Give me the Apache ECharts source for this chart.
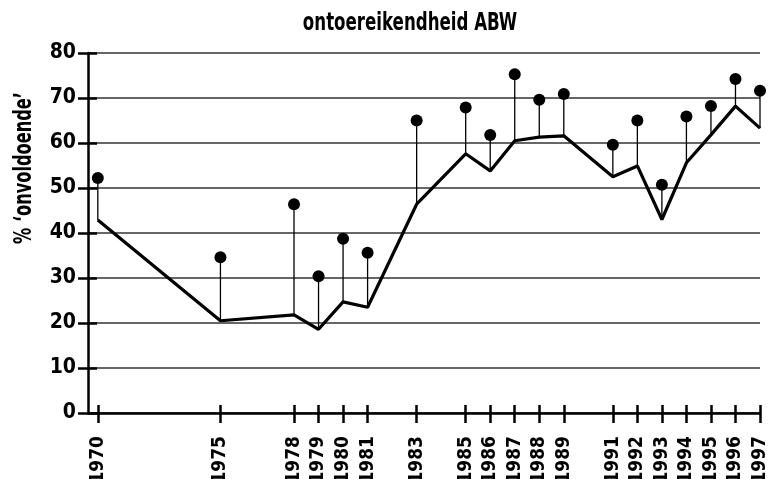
<!DOCTYPE html>
<html>
<head>
<meta charset="utf-8">
<script src="https://cdn.jsdelivr.net/npm/echarts@6/dist/echarts.min.js"></script>
<style>
html,body{margin:0;padding:0;background:#fff;}
#chart{width:772px;height:479px;}
</style>
</head>
<body>
<div id="chart"></div>
<script>
const years = [1970, 1975, 1978, 1979, 1980, 1981, 1983, 1985, 1986, 1987, 1988, 1989, 1991, 1992, 1993, 1994, 1995, 1996, 1997];
const lineValues = [42.9, 20.5, 21.8, 18.6, 24.7, 23.5, 46.4, 57.6, 53.8, 60.5, 61.3, 61.6, 52.5, 54.9, 43.0, 55.6, 61.8, 68.2, 63.3];
const dotValues = [52.2, 34.6, 46.4, 30.4, 38.7, 35.6, 65.0, 67.9, 61.8, 75.3, 69.6, 70.9, 59.6, 65.0, 50.7, 65.9, 68.2, 74.2, 71.6];
const yTicks = [0, 10, 20, 30, 40, 50, 60, 70, 80];
const titleText = 'ontoereikendheid ABW';
const yName = '% \u2018onvoldoende\u2019';

const FONT = '"DejaVu Sans Condensed", "Liberation Sans Narrow", "DejaVu Sans", sans-serif';

const chart = echarts.init(document.getElementById('chart'));
const lineData = years.map((y, i) => [y, lineValues[i]]);
const dotData = years.map((y, i) => [y, dotValues[i]]);
const dropData = years.map((y, i) => [y, dotValues[i], lineValues[i]]);

chart.setOption({
  animation: false,
  backgroundColor: '#fff',
  graphic: [{
    type: 'text',
    x: 410,
    y: 23,
    scaleX: 0.74,
    style: {
      text: titleText,
      font: 'bold 25px ' + FONT,
      fill: '#000',
      textAlign: 'center',
      textVerticalAlign: 'middle'
    }
  }, {
    type: 'text',
    x: 24,
    y: 168,
    rotation: Math.PI / 2,
    scaleX: 0.72,
    style: {
      text: yName,
      font: 'bold 25px ' + FONT,
      fill: '#000',
      textAlign: 'center',
      textVerticalAlign: 'middle'
    }
  }],
  grid: { left: 88, right: 12, top: 53, bottom: 66, containLabel: false, outerBoundsMode: 'none' },
  xAxis: [{
    type: 'value',
    min: 1969.6,
    max: 1997,
    position: 'bottom',
    splitLine: { show: false },
    axisLine: { show: true, lineStyle: { color: '#000', width: 2.5 } },
    axisTick: { show: true, customValues: years, length: 10, lineStyle: { color: '#000', width: 2.5 } },
    axisLabel: {
      customValues: years,
      rotate: 90,
      margin: 23,
      formatter: v => String(Math.round(v)),
      fontFamily: FONT, fontWeight: 'bold', fontSize: 19, color: '#000'
    }
  }, {
    type: 'value',
    min: 1969.6,
    max: 1997,
    position: 'bottom',
    splitLine: { show: false },
    axisLine: { show: false },
    axisLabel: { show: false },
    axisTick: { show: true, inside: true, customValues: years, length: 8, lineStyle: { color: '#000', width: 2.5 } }
  }],
  yAxis: [{
    type: 'value',
    min: 0,
    max: 80,
    interval: 10,
    position: 'left',
    axisLine: { show: true, lineStyle: { color: '#000', width: 2.5 } },
    axisTick: { show: true, length: 10, lineStyle: { color: '#000', width: 2.5 } },
    splitLine: { show: true, lineStyle: { color: '#333', width: 1.6 } },
    axisLabel: {
      margin: 12,
      formatter: v => String(v),
      fontFamily: FONT, fontWeight: 'bold', fontSize: 21, color: '#000'
    }
  }, {
    type: 'value',
    min: 0,
    max: 80,
    interval: 10,
    position: 'left',
    axisLine: { show: false },
    axisLabel: { show: false },
    splitLine: { show: false },
    axisTick: { show: true, inside: true, length: 9, lineStyle: { color: '#000', width: 2.5 } }
  }],
  series: [{
    type: 'custom',
    xAxisIndex: 0,
    yAxisIndex: 0,
    data: dropData,
    encode: { x: 0, y: [1, 2] },
    z: 2,
    renderItem: function (params, api) {
      const p1 = api.coord([api.value(0), api.value(1)]);
      const p2 = api.coord([api.value(0), api.value(2)]);
      return {
        type: 'line',
        shape: { x1: p1[0], y1: p1[1], x2: p2[0], y2: p2[1] },
        style: { stroke: '#000', lineWidth: 1.3 }
      };
    }
  }, {
    type: 'line',
    xAxisIndex: 0,
    yAxisIndex: 0,
    data: lineData,
    symbol: 'none',
    z: 3,
    lineStyle: { color: '#000', width: 3.2 },
    itemStyle: { color: '#000' }
  }, {
    type: 'scatter',
    xAxisIndex: 0,
    yAxisIndex: 0,
    data: dotData,
    symbol: 'circle',
    symbolSize: 12,
    z: 4,
    itemStyle: { color: '#000', opacity: 1 }
  }]
});
</script>
</body>
</html>
